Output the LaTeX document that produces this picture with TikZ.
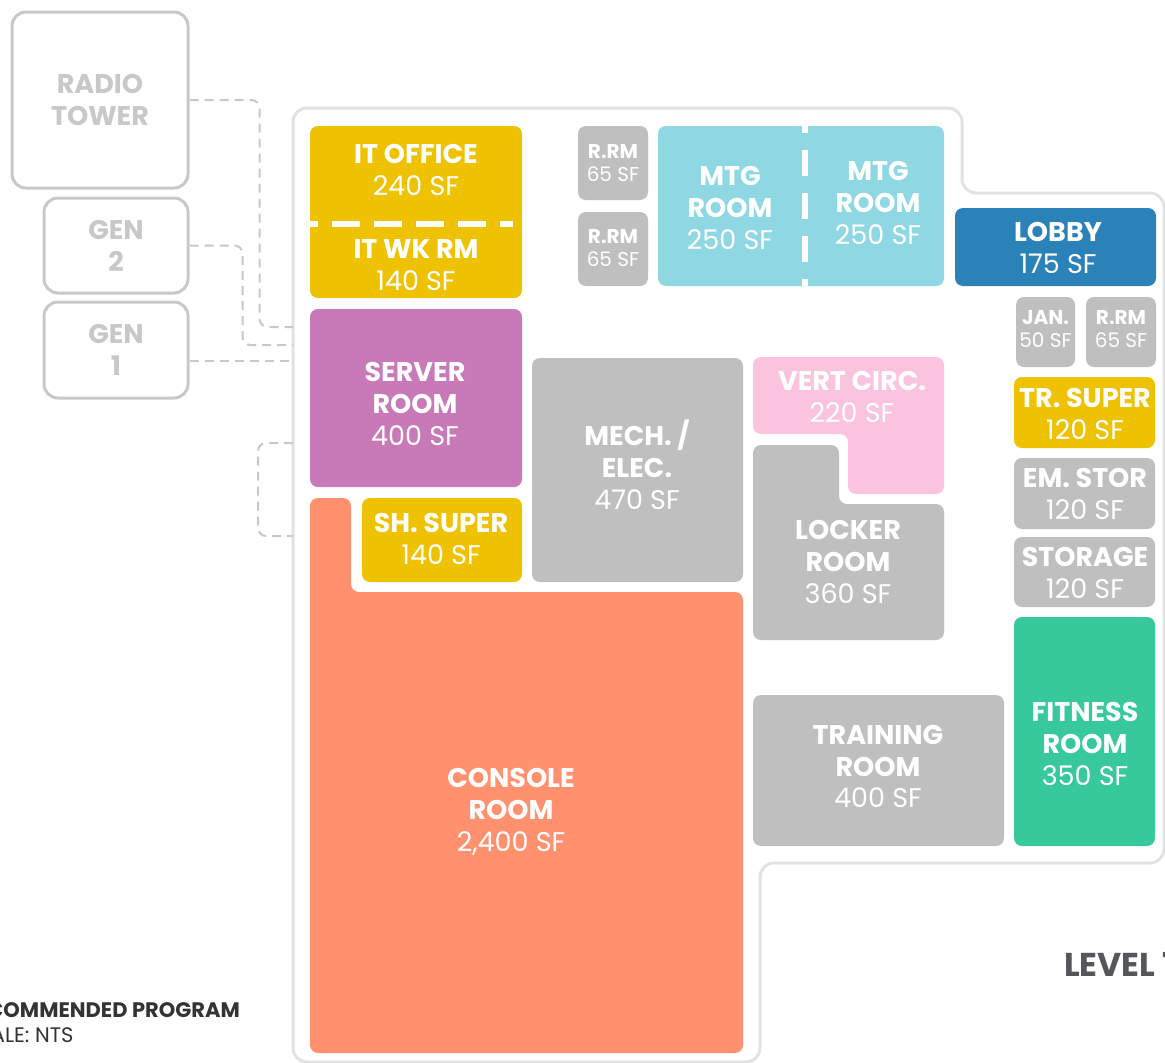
\documentclass[tikz,border=0pt]{standalone}
\usepackage{fontspec}
\setmainfont{Poppins}
\definecolor{itYellow}{HTML}{EEC200}
\definecolor{srvPurple}{HTML}{C879B8}
\definecolor{roomGray}{HTML}{BFBFBF}
\definecolor{mtgBlue}{HTML}{8FD8E3}
\definecolor{lobbyBlue}{HTML}{2B82B8}
\definecolor{vertPink}{HTML}{FAC4DE}
\definecolor{fitGreen}{HTML}{37C89B}
\definecolor{consOrange}{HTML}{FF916E}
\definecolor{wallGray}{HTML}{E2E2E2}
\definecolor{extGray}{HTML}{C8C8C8}
\definecolor{levelGray}{HTML}{55565A}
\definecolor{noteGray}{HTML}{333333}
\newcommand{\sqft}[1]{{\mdseries #1 SF}}

\begin{document}
\begin{tikzpicture}[x=1pt,y=-1pt,room/.style={rounded corners=8pt},lbl/.style={text=white,align=center,inner sep=0pt,font=\fontsize{27}{32}\selectfont\bfseries},lblS/.style={lbl,font=\fontsize{20}{23}\selectfont\bfseries},site/.style={draw=extGray,line width=3pt,rounded corners=14pt,text=extGray,align=center,font=\fontsize{27}{32}\selectfont\bfseries},conn/.style={draw=extGray,line width=2pt,dash pattern=on 9pt off 6pt,rounded corners=8pt},divider/.style={white,line width=6pt}]
\useasboundingbox (0,0) rectangle (1165,1063);
\clip (0,0) rectangle (1165,1063);
\fill[white] (0,0) rectangle (1165,1063);

% outside the building
\node[site,minimum width=176pt,minimum height=176pt] (tower) at (100,100) {RADIO\\TOWER};
\node[site,minimum width=144pt,minimum height=95pt] (gen2) at (116,245.5) {GEN\\2};
\node[site,minimum width=144pt,minimum height=96pt] (gen1) at (116,350) {GEN\\1};

% building
\draw[wallGray,line width=3pt,rounded corners=14pt] (293,108) -- (962,108) -- (962,193) -- (1164,193) -- (1164,863) -- (760,863) -- (760,1062) -- (293,1062) -- cycle;

\coordinate (wA) at (293,327);
\coordinate (wB) at (293,345);
\coordinate (wC) at (293,361);
\coordinate (wD) at (293,443);
\coordinate (wE) at (293,536);
\draw[conn] (tower.east) -- ++(70,0) |- (wA);
\draw[conn] (gen2.east) -- ++(53,0) |- (wB);
\draw[conn] (gen1.east |- wC) -- (wC);
\draw[conn] (wD) -- ++(-35,0) |- (wE);

% west block
\fill[room,itYellow] (310,126) rectangle (522,298);
\draw[divider,dash pattern=on 28pt off 14pt,dash phase=20pt] (310,224) -- (513,224);
\node[lbl] (itoff) at (416,170) {IT OFFICE\\\sqft{240}};
\node[lbl] (itwk) at (416,265) {IT WK RM\\\sqft{140}};

\fill[room,srvPurple] (310,309) rectangle (522,487);
\node[lbl] (server) at (415,403.5) {SERVER\\ROOM\\\sqft{400}};

\fill[room,itYellow] (362,498) rectangle (522,582);
\node[lbl] (shsup) at (441,539) {SH. SUPER\\\sqft{140}};

\fill[room,consOrange] (310,498) -- (351,498) -- (351,592) -- (743,592) -- (743,1053) -- (310,1053) -- cycle;
\node[lbl] (console) at (511,811.5) {CONSOLE\\ROOM\\\sqft{2,400}};

\fill[room,roomGray] (532,358) rectangle (743,582);
\node[lbl] (mech) at (637,465) {MECH. /\\ELEC.\\\sqft{470}};

% north row
\fill[room,roomGray] (578,126) rectangle (648,200);
\node[lblS] (rrmA) at (613,163.5) {R.RM\\\sqft{65}};
\fill[room,roomGray] (578,212) rectangle (648,286);
\node[lblS] (rrmB) at (613,248.5) {R.RM\\\sqft{65}};

\fill[room,mtgBlue] (658,126) rectangle (944,286);
\draw[divider,dash pattern=on 26pt off 17pt,dash phase=19pt] (805,126) -- (805,286);
\node[lbl] (mtgA) at (730,208) {MTG\\ROOM\\\sqft{250}};
\node[lbl] (mtgB) at (878,203) {MTG\\ROOM\\\sqft{250}};

% middle
\fill[room,vertPink] (753,357) -- (944,357) -- (944,494) -- (848,494) -- (848,434) -- (753,434) -- cycle;
\node[lbl] (vert) at (852,397.5) {VERT CIRC.\\\sqft{220}};

\fill[room,roomGray] (753,445) -- (839,445) -- (839,504) -- (944,504) -- (944,640) -- (753,640) -- cycle;
\node[lbl] (locker) at (848,561.5) {LOCKER\\ROOM\\\sqft{360}};

\fill[room,roomGray] (753,695) rectangle (1004,846);
\node[lbl] (train) at (878,766.5) {TRAINING\\ROOM\\\sqft{400}};

% east column
\fill[room,lobbyBlue] (955,208) rectangle (1156,286);
\node[lbl] (lobby) at (1058,247.5) {LOBBY\\\sqft{175}};

\fill[room,roomGray] (1016,297) rectangle (1075,367);
\node[lblS] (jan) at (1045.5,329.5) {JAN.\\\sqft{50}};
\fill[room,roomGray] (1086,297) rectangle (1156,367);
\node[lblS] (rrmC) at (1121,329.5) {R.RM\\\sqft{65}};

\fill[room,itYellow] (1014,377) rectangle (1155,448);
\node[lbl] (trsup) at (1085,414) {TR. SUPER\\\sqft{120}};
\fill[room,roomGray] (1014,458) rectangle (1155,529);
\node[lbl] (emstor) at (1085,494) {EM. STOR\\\sqft{120}};
\fill[room,roomGray] (1014,537) rectangle (1155,607);
\node[lbl] (stor) at (1085,572.5) {STORAGE\\\sqft{120}};
\fill[room,fitGreen] (1014,617) rectangle (1155,846);
\node[lbl] (fit) at (1085,743.5) {FITNESS\\ROOM\\\sqft{350}};

% titles
\node[anchor=base west,inner sep=0pt,text=levelGray,font=\fontsize{33}{40}\selectfont\bfseries] (level) at (1064,976) {LEVEL 1};
\node[anchor=base east,inner sep=0pt,text=noteGray,font=\fontsize{21}{25}\selectfont\bfseries] (prog) at (240,1017) {RECOMMENDED PROGRAM};
\node[anchor=base west,inner sep=0pt,text=noteGray,font=\fontsize{21}{25}\selectfont] (scale) at ([yshift=-25pt]prog.base west) {SCALE: NTS};
\end{tikzpicture}
\end{document}
